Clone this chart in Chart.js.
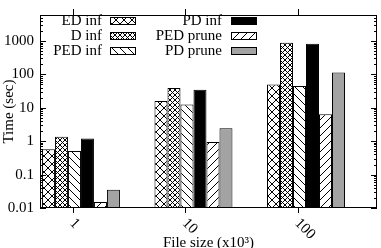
<!DOCTYPE html>
<html>
<head>
<meta charset="utf-8">
<script src="https://cdn.jsdelivr.net/npm/chart.js@4/dist/chart.umd.min.js"></script>
<style>
  html, body { margin: 0; padding: 0; background: #fff; }
</style>
</head>
<body>
<canvas id="myChart" width="381" height="248"></canvas>
<script>
// file sizes (x10^3) on the x axis
var fileSizes = ['1', '10', '100'];
var seriesNames = ['ED inf', 'D inf', 'PED inf', 'PD inf', 'PED prune', 'PD prune'];

// time in seconds
var edInf = [0.57, 16, 50];
var dInf = [1.35, 39, 890];
var pedInf = [0.51, 12.5, 45];
var pdInf = [1.2, 34.5, 830];
var pedPrune = [0.015, 0.95, 6.4];
var pdPrune = [0.035, 2.46, 114];

var yTicks = [0.01, 0.1, 1, 10, 100, 1000];

var FONT = '"Liberation Serif", "Times New Roman", serif';
var FONT_SIZE = 15;
var TICK_SHIFT = -0.071; // x tics sit a little left of the bar clusters

document.addEventListener('DOMContentLoaded', function () {
    var ctx = document.getElementById('myChart').getContext('2d');

    // small tiles for the hatch fills
    function makePattern(size, draw) {
        var c = document.createElement('canvas');
        c.width = size; c.height = size;
        var g = c.getContext('2d');
        g.fillStyle = '#fff';
        g.fillRect(0, 0, size, size);
        g.strokeStyle = '#000';
        g.lineWidth = 1;
        draw(g, size);
        return ctx.createPattern(c, 'repeat');
    }
    function slash(g, s) {
        g.beginPath();
        g.moveTo(-1, s + 1); g.lineTo(s + 1, -1);
        g.moveTo(-1, 1); g.lineTo(1, -1);
        g.moveTo(s - 1, s + 1); g.lineTo(s + 1, s - 1);
        g.stroke();
    }
    function backslash(g, s) {
        g.beginPath();
        g.moveTo(-1, -1); g.lineTo(s + 1, s + 1);
        g.moveTo(s - 1, -1); g.lineTo(s + 1, 1);
        g.moveTo(-1, s - 1); g.lineTo(1, s + 1);
        g.stroke();
    }

    var fills = [
        makePattern(8, function (g, s) { slash(g, s); backslash(g, s); }),
        makePattern(5, function (g, s) { slash(g, s); backslash(g, s); }),
        makePattern(8, backslash),
        '#000',
        makePattern(8, slash),
        '#a3a3a3'
    ];

    var seriesData = [edInf, dInf, pedInf, pdInf, pedPrune, pdPrune];
    var datasets = seriesNames.map(function (name, k) {
        return {
            label: name,
            data: seriesData[k].map(function (v, i) { return { x: i, y: v }; }),
            backgroundColor: fills[k],
            borderColor: '#000',
            borderWidth: 1,
            borderSkipped: false,
            categoryPercentage: 0.693,
            barPercentage: 1
        };
    });

    // frame, inward/outward tics, rotated x labels and the two-column key
    var framePlugin = {
        id: 'frame',
        afterDatasetsDraw: function (chart) {
            var c = chart.ctx, a = chart.chartArea;
            var xs = chart.scales.x, ys = chart.scales.y;
            c.save();
            c.strokeStyle = '#000';
            c.lineWidth = 1;
            c.strokeRect(a.left + 0.5, a.top + 0.5, a.right - a.left - 1, a.bottom - a.top - 1);

            c.beginPath();
            yTicks.forEach(function (d) {
                var y = Math.round(ys.getPixelForValue(d)) + 0.5;
                c.moveTo(a.left, y); c.lineTo(a.left + 6, y);
                c.moveTo(a.right, y); c.lineTo(a.right - 6, y);
                for (var m = 2; m <= 9; m++) {
                    var v = d * m;
                    if (v >= ys.max) break;
                    var ym = Math.round(ys.getPixelForValue(v)) + 0.5;
                    c.moveTo(a.left, ym); c.lineTo(a.left + 3, ym);
                    c.moveTo(a.right, ym); c.lineTo(a.right - 3, ym);
                }
            });
            fileSizes.forEach(function (lab, i) {
                var x = Math.round(xs.getPixelForValue(i + TICK_SHIFT)) + 0.5;
                c.moveTo(x, a.top - 6); c.lineTo(x, a.top);
                c.moveTo(x, a.bottom); c.lineTo(x, a.bottom + 5);
            });
            c.stroke();

            c.fillStyle = '#000';
            c.font = FONT_SIZE + 'px ' + FONT;
            c.textAlign = 'left';
            c.textBaseline = 'middle';
            fileSizes.forEach(function (lab, i) {
                var x = xs.getPixelForValue(i + TICK_SHIFT);
                c.save();
                c.translate(x - 1, a.bottom + 13);
                c.rotate(Math.PI / 4);
                c.fillText(lab, 0, 0);
                c.restore();
            });

            // key
            var rows = [21, 36, 51];
            var cols = [{ textRight: 102, box: 110 }, { textRight: 222, box: 231 }];
            c.textAlign = 'right';
            seriesNames.forEach(function (name, k) {
                var col = cols[Math.floor(k / 3)], y = rows[k % 3];
                c.fillStyle = '#000';
                c.fillText(name, col.textRight, y);
                c.fillStyle = fills[k];
                c.fillRect(col.box, y - 3, 25, 6);
                c.strokeRect(col.box + 0.5, y - 3.5, 25, 7);
            });
            c.restore();
        }
    };

    var myChart = new Chart(ctx, {
        type: 'bar',
        data: { datasets: datasets },
        options: {
            responsive: false,
            animation: false,
            devicePixelRatio: 1,
            layout: { padding: { top: 11, right: 4, left: 0, bottom: 0 } },
            plugins: { legend: { display: false }, tooltip: { enabled: false } },
            scales: {
                x: {
                    type: 'linear',
                    offset: false,
                    min: -0.364,
                    max: 2.631,
                    grid: { display: false, drawTicks: false, offset: false },
                    border: { display: false },
                    ticks: { display: false },
                    afterBuildTicks: function (s) {
                        s.ticks = fileSizes.map(function (l, i) { return { value: i + TICK_SHIFT }; });
                    },
                    afterFit: function (s) { s.height = 40; },
                    title: {
                        display: true,
                        text: 'File size (x10³)',
                        color: '#000',
                        font: { family: FONT, size: FONT_SIZE, lineHeight: 1 },
                        padding: { top: 0, bottom: -3 }
                    }
                },
                y: {
                    type: 'logarithmic',
                    min: 0.01,
                    max: 6000,
                    grid: { display: false, drawTicks: false },
                    border: { display: false },
                    afterBuildTicks: function (s) {
                        s.ticks = yTicks.map(function (v) { return { value: v }; });
                    },
                    afterFit: function (s) { s.width = 40; },
                    ticks: {
                        color: '#000',
                        padding: 6,
                        font: { family: FONT, size: FONT_SIZE },
                        callback: function (v) { return String(v); }
                    },
                    title: {
                        display: true,
                        text: 'Time (sec)',
                        color: '#000',
                        font: { family: FONT, size: FONT_SIZE },
                        padding: 0
                    }
                }
            }
        },
        plugins: [framePlugin]
    });
});
</script>
</body>
</html>
